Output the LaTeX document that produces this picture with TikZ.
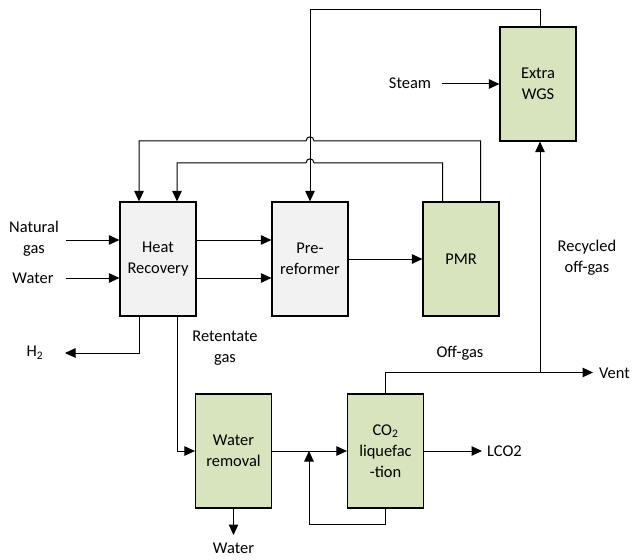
\documentclass[tikz,border=0pt]{standalone}
\usepackage{fontspec}
\setmainfont{Carlito}
\usetikzlibrary{arrows.meta}
\definecolor{boxgrey}{HTML}{F2F2F2}
\definecolor{boxgreen}{HTML}{D7E4BD}
\tikzset{
  unit/.style={draw=black, line width=1.2bp, minimum width=76bp, minimum height=114bp, align=center, inner sep=0pt},
  greyunit/.style={unit, fill=boxgrey},
  greenunit/.style={unit, fill=boxgreen},
  flow/.style={line width=1bp},
  arr/.style={flow, -{Triangle[length=10.5bp,width=9.5bp]}},
  lbl/.style={align=center, inner sep=0pt},
}
\begin{document}
\begin{tikzpicture}[x=1bp,y=-1bp, font=\fontsize{16.5}{21}\selectfont]
\useasboundingbox (0,0) rectangle (632,560);
% units
\node[greyunit]  (HR)  at (158,259)   {Heat\\Recovery};
\node[greyunit]  (PR)  at (310,259)   {Pre-\\reformer};
\node[greenunit] (PMR) at (461,259)   {PMR};
\node[greenunit] (WGS) at (538,84)    {Extra\\WGS};
\node[greenunit] (WR)  at (233.5,451) {Water\\removal};
\node[greenunit] (CO2) at (385.5,451) {CO\textsubscript{2}\\liquefac\\-tion};
% labels
\node[lbl] (lng)    at (34,239)  {Natural\\gas};
\node[lbl] (lwa)    at (33,278)  {Water};
\node[lbl] (lsteam) at (410,83)  {Steam};
\node[lbl] (lrec)   at (587,258) {Recycled\\off-gas};
\node[lbl] (lret)   at (225,348) {Retentate\\gas};
\node[lbl] (loff)   at (460,353) {Off-gas};
\node[lbl] (lh2)    at (35,353)  {H\textsubscript{2}};
\node[lbl, anchor=west] (lvent) at (599,373) {Vent};
\node[lbl, anchor=west] (llco)  at (487,451) {LCO2};
\node[lbl] (lwout)  at (233.5,548) {Water};
% free ends
\coordinate (ngin) at (66,240);
\coordinate (wain) at (66,278);
\coordinate (h2end) at (65,353);
\coordinate (ventend) at (593,372.5);
\coordinate (lcoend) at (482,451);
\coordinate (waterend) at (233.5,535);
\coordinate (steamin) at (442,84);
% feeds
\draw[arr] (ngin) -- (ngin -| HR.west);
\draw[arr] (wain) -- (wain -| HR.west);
\draw[arr] (HR.east |- ngin) -- (PR.west |- ngin);
\draw[arr] (HR.east |- wain) -- (PR.west |- wain);
\draw[arr] (PR) -- (PMR);
\draw[arr] (steamin) -- (WGS.west |- steamin);
% recycle loops from PMR to heat recovery
\draw[arr] (480.5,0 |- PMR.north) -- (480.5,141)
  -- (314,141) .. controls (314,135.5) and (306,135.5) .. (306,141)
  -- (139,141) -- (139,0 |- HR.north);
\draw[arr] (442.5,0 |- PMR.north) -- (442.5,163)
  -- (314,163) .. controls (314,157.5) and (306,157.5) .. (306,163)
  -- (177,163) -- (177,0 |- HR.north);
% extra WGS to pre-reformer
\draw[arr] (540,0 |- WGS.north) -- (540,10) -- (310,10) -- (PR.north);
% products of heat recovery
\draw[arr] (139,0 |- HR.south) -- (139,353) -- (h2end);
\draw[arr] (177,0 |- HR.south) -- (177,451) -- (WR.west);
% water removal and CO2 liquefaction
\draw[arr] (WR.south) -- (waterend);
\draw[arr] (WR.east) -- (CO2.west);
\draw[arr] (CO2.south) -- (385.5,524) -- (309,524) -- (309,451);
\draw[arr] (CO2.east) -- (lcoend);
\draw[arr] (CO2.north) -- (385.5,372.5) -- (ventend);
\draw[arr] (540,372.5) -- (540,0 |- WGS.south);
\end{tikzpicture}
\end{document}
